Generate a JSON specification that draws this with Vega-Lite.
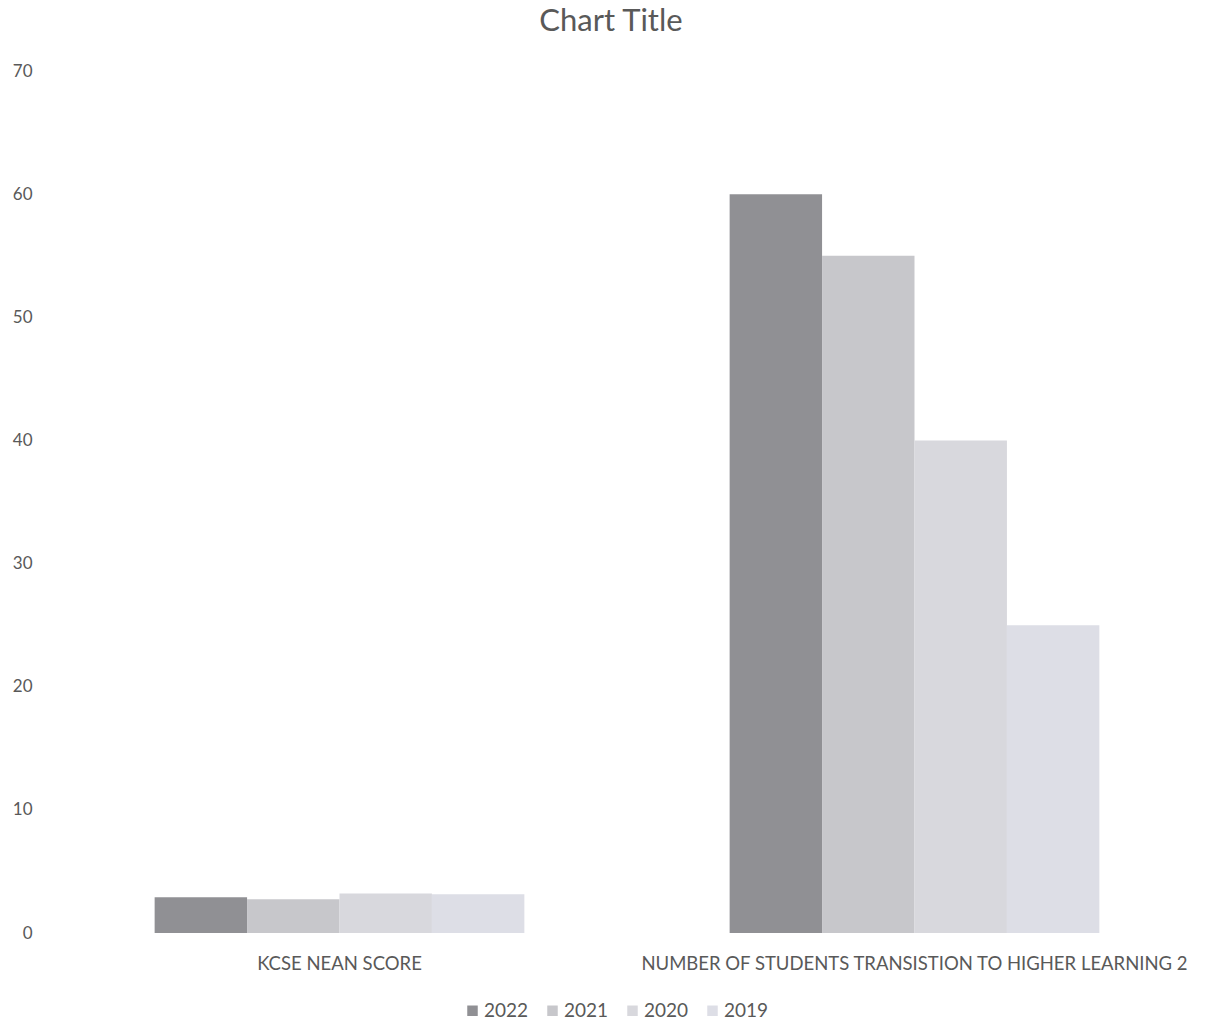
{
  "$schema": "https://vega.github.io/schema/vega-lite/v6.json",
  "autosize": {"type": "none"},
  "width": 1150,
  "height": 862,
  "padding": {"left": 52, "top": 71, "right": 6, "bottom": 89},
  "background": "white",
  "title": {
    "text": "Chart Title",
    "font": "Lato",
    "fontSize": 31,
    "fontWeight": "normal",
    "color": "#595959",
    "anchor": "middle",
    "baseline": "alphabetic",
    "offset": 0,
    "dx": -16
  },
  "data": {
    "values": [
      {"category": "KCSE NEAN SCORE", "year": "2022", "value": 2.9},
      {"category": "KCSE NEAN SCORE", "year": "2021", "value": 2.75},
      {"category": "KCSE NEAN SCORE", "year": "2020", "value": 3.2},
      {"category": "KCSE NEAN SCORE", "year": "2019", "value": 3.15},
      {"category": "NUMBER OF STUDENTS TRANSISTION TO HIGHER LEARNING 2", "year": "2022", "value": 60},
      {"category": "NUMBER OF STUDENTS TRANSISTION TO HIGHER LEARNING 2", "year": "2021", "value": 55},
      {"category": "NUMBER OF STUDENTS TRANSISTION TO HIGHER LEARNING 2", "year": "2020", "value": 40},
      {"category": "NUMBER OF STUDENTS TRANSISTION TO HIGHER LEARNING 2", "year": "2019", "value": 25}
    ]
  },
  "mark": {"type": "bar"},
  "encoding": {
    "x": {
      "field": "category",
      "type": "nominal",
      "sort": null,
      "scale": {"paddingInner": 0.357, "paddingOuter": 0.1785},
      "axis": {
        "title": null,
        "labelAngle": 0,
        "labelFont": "Lato",
        "labelFontSize": 18.5,
        "labelColor": "#595959",
        "labelPadding": 21,
        "domain": false,
        "ticks": false,
        "labelLimit": 0
      }
    },
    "xOffset": {
      "field": "year",
      "type": "nominal",
      "sort": ["2022", "2021", "2020", "2019"],
      "scale": {"paddingInner": 0, "paddingOuter": 0}
    },
    "y": {
      "field": "value",
      "type": "quantitative",
      "scale": {"domain": [0, 70], "nice": false},
      "axis": {
        "title": null,
        "values": [0, 10, 20, 30, 40, 50, 60, 70],
        "labelFont": "Lato",
        "labelFontSize": 17,
        "labelColor": "#595959",
        "labelPadding": 20,
        "domain": false,
        "ticks": false,
        "grid": false
      }
    },
    "color": {
      "field": "year",
      "type": "nominal",
      "sort": ["2022", "2021", "2020", "2019"],
      "scale": {
        "domain": ["2022", "2021", "2020", "2019"],
        "range": ["#909094", "#c7c7cb", "#d8d8dd", "#dddee6"]
      },
      "legend": {
        "title": null,
        "orient": "none",
        "direction": "horizontal",
        "legendX": 411,
        "legendY": 930,
        "symbolType": "square",
        "symbolSize": 110,
        "symbolStrokeWidth": 0,
        "labelFont": "Lato",
        "labelFontSize": 19,
        "labelColor": "#595959",
        "labelOffset": 2,
        "columnPadding": 14
      }
    }
  },
  "config": {"view": {"stroke": null}}
}
